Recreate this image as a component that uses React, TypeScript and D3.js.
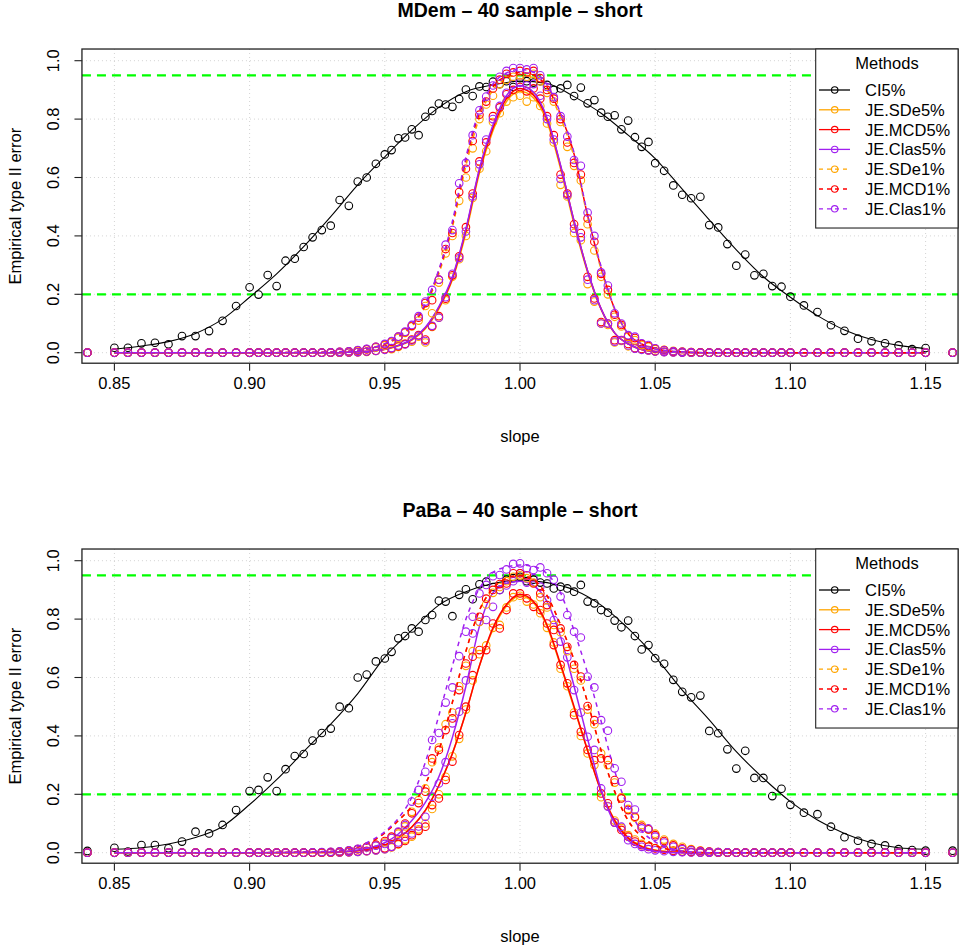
import * as d3 from 'd3'
import React from 'react'

// simulated slopes: 0.005 steps outside, 1/300 steps then 0.0025 steps near 1
const slopes = [
  0.84, 0.85, 0.855, 0.86, 0.865, 0.87, 0.875, 0.88, 0.885, 0.89, 0.895,
  0.9, 0.9033, 0.9067, 0.91, 0.9133, 0.9167, 0.92, 0.9233, 0.9267, 0.93, 0.9333, 0.9367, 0.94, 0.9433, 0.9467,
  0.95, 0.9525, 0.955, 0.9575, 0.96, 0.9625, 0.965, 0.9675, 0.97, 0.9725,
  0.975, 0.9775, 0.98, 0.9825, 0.985, 0.9875, 0.99, 0.9925, 0.995, 0.9975,
  1, 1.0025, 1.005, 1.0075, 1.01, 1.0125, 1.015, 1.0175, 1.02, 1.0225,
  1.025, 1.0275, 1.03, 1.0325, 1.035, 1.0375, 1.04, 1.0425, 1.045, 1.0475,
  1.05,
  1.0533, 1.0567, 1.06, 1.0633, 1.0667, 1.07, 1.0733, 1.0767, 1.08, 1.0833, 1.0867, 1.09, 1.0933, 1.0967, 1.1,
  1.105, 1.11, 1.115, 1.12, 1.125, 1.13, 1.135, 1.14, 1.145, 1.15, 1.16,
]

// slopes where the smoothed curves were evaluated
const ciFitSlopes = [
  0.85, 0.86, 0.87, 0.88, 0.89, 0.9, 0.91, 0.92, 0.93, 0.94, 0.95, 0.96, 0.97, 0.98, 0.99, 1,
  1.01, 1.02, 1.03, 1.04, 1.05, 1.06, 1.07, 1.08, 1.09, 1.1, 1.11, 1.12, 1.13, 1.14, 1.15,
]
const jeFitSlopes = [
  0.85, 0.9, 0.93, 0.935, 0.94, 0.945, 0.95, 0.955, 0.96, 0.965, 0.97, 0.975, 0.98, 0.985, 0.99, 0.995,
  1, 1.005, 1.01, 1.015, 1.02, 1.025, 1.03, 1.035, 1.04, 1.045, 1.05, 1.055, 1.06, 1.065, 1.07, 1.1, 1.15,
]

const xTicks = [0.85, 0.9, 0.95, 1, 1.05, 1.1, 1.15]
const yTicks = [0, 0.2, 0.4, 0.6, 0.8, 1]
const yTickLabels = ['0.0', '0.2', '0.4', '0.6', '0.8', '1.0']
const refLevels = [0.95, 0.2]

const methods = ['CI5%', 'JE.SDe5%', 'JE.MCD5%', 'JE.Clas5%', 'JE.SDe1%', 'JE.MCD1%', 'JE.Clas1%']
const methodColors = ['#000000', '#FFA500', '#FF0000', '#A020F0', '#FFA500', '#FF0000', '#A020F0']
const methodDashed = [false, false, false, false, true, true, true]

// ---------- MDem ----------
const mdemCI = [
  0, 0.017, 0.017, 0.032, 0.034, 0.029, 0.057, 0.057, 0.074, 0.109, 0.16,
  0.224, 0.199, 0.266, 0.228, 0.315, 0.322, 0.362, 0.395, 0.42, 0.435, 0.523, 0.503, 0.586, 0.6, 0.647,
  0.679, 0.694, 0.734, 0.737, 0.765, 0.745, 0.808, 0.828, 0.853, 0.85,
  0.842, 0.869, 0.901, 0.879, 0.912, 0.91, 0.928, 0.92, 0.93, 0.91,
  0.94, 0.93, 0.925, 0.93, 0.917, 0.9, 0.905, 0.917, 0.879, 0.908,
  0.854, 0.865, 0.822, 0.808, 0.813, 0.765, 0.795, 0.738, 0.705, 0.722,
  0.649,
  0.623, 0.573, 0.541, 0.529, 0.534, 0.437, 0.429, 0.372, 0.298, 0.336, 0.265, 0.27, 0.228, 0.226, 0.192,
  0.162, 0.139, 0.094, 0.075, 0.048, 0.039, 0.032, 0.025, 0.012, 0.016, 0,
]
const mdemSDe5 = [
  0, 0, 0, 0, 0, 0, 0, 0, 0, 0, 0,
  0, 0, 0, 0, 0, 0, 0, 0, 0, 0, 0, 0.001, 0.002, 0.003, 0.006,
  0.01, 0.012, 0.02, 0.03, 0.038, 0.055, 0.035, 0.088, 0.12, 0.18,
  0.26, 0.32, 0.4, 0.53, 0.63, 0.69, 0.79, 0.82, 0.86, 0.875,
  0.88, 0.86, 0.875, 0.845, 0.785, 0.72, 0.575, 0.535, 0.41, 0.385,
  0.235, 0.175, 0.1, 0.095, 0.035, 0.04, 0.022, 0.015, 0.011, 0.008,
  0.004,
  0.003, 0.002, 0.001, 0, 0, 0, 0, 0, 0, 0, 0, 0, 0, 0, 0,
  0, 0, 0, 0, 0, 0, 0, 0, 0, 0, 0,
]
const mdemMCD5 = [
  0, 0, 0, 0, 0, 0, 0, 0, 0, 0, 0,
  0, 0, 0, 0, 0, 0, 0, 0, 0, 0, 0, 0.001, 0.002, 0.004, 0.007,
  0.012, 0.015, 0.022, 0.03, 0.045, 0.06, 0.045, 0.09, 0.125, 0.185,
  0.265, 0.33, 0.43, 0.545, 0.655, 0.72, 0.81, 0.84, 0.885, 0.9,
  0.91, 0.895, 0.905, 0.87, 0.81, 0.745, 0.61, 0.545, 0.44, 0.41,
  0.26, 0.186, 0.105, 0.1, 0.043, 0.043, 0.03, 0.015, 0.013, 0.009,
  0.005,
  0.003, 0.002, 0.001, 0, 0, 0, 0, 0, 0, 0, 0, 0, 0, 0, 0,
  0, 0, 0, 0, 0, 0, 0, 0, 0, 0, 0,
]
const mdemClas5 = [
  0, 0, 0, 0, 0, 0, 0, 0, 0, 0, 0,
  0, 0, 0, 0, 0, 0, 0, 0, 0, 0, 0, 0.001, 0.002, 0.004, 0.006,
  0.01, 0.016, 0.025, 0.028, 0.042, 0.058, 0.04, 0.092, 0.12, 0.19,
  0.27, 0.325, 0.415, 0.535, 0.645, 0.73, 0.8, 0.845, 0.89, 0.92,
  0.925, 0.915, 0.92, 0.88, 0.8, 0.73, 0.595, 0.54, 0.425, 0.395,
  0.25, 0.18, 0.1, 0.1, 0.038, 0.042, 0.025, 0.014, 0.01, 0.008,
  0.004,
  0.002, 0.001, 0, 0, 0, 0, 0, 0, 0, 0, 0, 0, 0, 0, 0,
  0, 0, 0, 0, 0, 0, 0, 0, 0, 0, 0,
]
const mdemSDe1 = [
  0, 0, 0, 0, 0, 0, 0, 0, 0, 0, 0,
  0, 0, 0, 0, 0, 0, 0, 0, 0, 0.001, 0.002, 0.004, 0.007, 0.011, 0.018,
  0.025, 0.035, 0.05, 0.068, 0.09, 0.11, 0.16, 0.135, 0.24, 0.34,
  0.4, 0.52, 0.6, 0.7, 0.8, 0.85, 0.88, 0.92, 0.935, 0.945,
  0.95, 0.945, 0.955, 0.93, 0.89, 0.86, 0.79, 0.705, 0.64, 0.59,
  0.44, 0.35, 0.26, 0.2, 0.123, 0.09, 0.055, 0.043, 0.026, 0.02,
  0.012,
  0.01, 0.006, 0.004, 0.002, 0.001, 0, 0, 0, 0, 0, 0, 0, 0, 0, 0,
  0, 0, 0, 0, 0, 0, 0, 0, 0, 0, 0,
]
const mdemMCD1 = [
  0, 0, 0, 0, 0, 0, 0, 0, 0, 0, 0,
  0, 0, 0, 0, 0, 0, 0, 0, 0, 0.001, 0.003, 0.005, 0.008, 0.012, 0.02,
  0.028, 0.038, 0.055, 0.07, 0.092, 0.12, 0.17, 0.18, 0.25, 0.355,
  0.41, 0.55, 0.63, 0.725, 0.815, 0.86, 0.905, 0.935, 0.955, 0.96,
  0.965, 0.96, 0.965, 0.94, 0.9, 0.87, 0.8, 0.72, 0.65, 0.61,
  0.46, 0.38, 0.27, 0.215, 0.13, 0.095, 0.058, 0.05, 0.03, 0.023,
  0.014,
  0.009, 0.005, 0.003, 0.002, 0.001, 0, 0, 0, 0, 0, 0, 0, 0, 0, 0,
  0, 0, 0, 0, 0, 0, 0, 0, 0, 0, 0,
]
const mdemClas1 = [
  0, 0, 0, 0, 0, 0, 0, 0, 0, 0, 0,
  0, 0, 0, 0, 0, 0, 0, 0, 0, 0.001, 0.003, 0.005, 0.009, 0.013, 0.02,
  0.03, 0.04, 0.055, 0.072, 0.095, 0.125, 0.175, 0.215, 0.25, 0.37,
  0.42, 0.58, 0.65, 0.745, 0.83, 0.877, 0.915, 0.945, 0.965, 0.975,
  0.975, 0.97, 0.975, 0.95, 0.91, 0.875, 0.81, 0.74, 0.66, 0.64,
  0.48, 0.4, 0.275, 0.23, 0.135, 0.1, 0.06, 0.055, 0.032, 0.026,
  0.015,
  0.008, 0.005, 0.003, 0.001, 0, 0, 0, 0, 0, 0, 0, 0, 0, 0, 0,
  0, 0, 0, 0, 0, 0, 0, 0, 0, 0, 0,
]
const mdemCIFit = [
  0.012, 0.023, 0.038, 0.066, 0.115, 0.19, 0.27, 0.363, 0.466, 0.575, 0.671, 0.762, 0.84, 0.894, 0.917, 0.93,
  0.922, 0.877, 0.82, 0.745, 0.665, 0.56, 0.455, 0.352, 0.26, 0.19, 0.127, 0.078, 0.045, 0.025, 0.014,
]
const mdemSDe5Fit = [
  0, 0, 0, 0.001, 0.003, 0.006, 0.011, 0.023, 0.043, 0.082, 0.15, 0.25, 0.41, 0.615, 0.76, 0.86,
  0.895, 0.872, 0.79, 0.63, 0.44, 0.275, 0.148, 0.067, 0.03, 0.011, 0.004, 0.0015, 0.001, 0, 0, 0, 0,
]
const mdemMCD5Fit = [
  0, 0, 0, 0.001, 0.003, 0.006, 0.012, 0.025, 0.045, 0.085, 0.155, 0.255, 0.42, 0.625, 0.77, 0.87,
  0.905, 0.882, 0.8, 0.64, 0.45, 0.28, 0.15, 0.068, 0.03, 0.011, 0.004, 0.0015, 0.001, 0, 0, 0, 0,
]
const mdemClas5Fit = [
  0, 0, 0, 0.001, 0.003, 0.006, 0.012, 0.025, 0.046, 0.087, 0.158, 0.26, 0.425, 0.63, 0.78, 0.88,
  0.915, 0.892, 0.805, 0.642, 0.45, 0.28, 0.15, 0.068, 0.03, 0.011, 0.004, 0.0015, 0.001, 0, 0, 0, 0,
]
const mdemSDe1Fit = [
  0, 0, 0.002, 0.004, 0.008, 0.015, 0.028, 0.052, 0.09, 0.16, 0.27, 0.43, 0.64, 0.805, 0.9, 0.94,
  0.952, 0.942, 0.9, 0.805, 0.67, 0.465, 0.285, 0.148, 0.064, 0.03, 0.013, 0.006, 0.003, 0.001, 0, 0, 0,
]
const mdemMCD1Fit = [
  0, 0, 0.002, 0.004, 0.008, 0.016, 0.03, 0.055, 0.095, 0.165, 0.28, 0.44, 0.66, 0.82, 0.91, 0.948,
  0.96, 0.95, 0.91, 0.815, 0.68, 0.47, 0.29, 0.15, 0.065, 0.03, 0.013, 0.006, 0.003, 0.001, 0, 0, 0,
]
const mdemClas1Fit = [
  0, 0, 0.002, 0.004, 0.008, 0.016, 0.031, 0.057, 0.098, 0.17, 0.285, 0.45, 0.67, 0.83, 0.92, 0.958,
  0.97, 0.96, 0.918, 0.82, 0.685, 0.475, 0.295, 0.152, 0.066, 0.03, 0.013, 0.006, 0.003, 0.001, 0, 0, 0,
]

// ---------- PaBa ----------
const pabaCI = [
  0.006, 0.017, 0.004, 0.026, 0.026, 0.015, 0.038, 0.072, 0.066, 0.095, 0.146,
  0.211, 0.215, 0.258, 0.211, 0.286, 0.331, 0.338, 0.384, 0.41, 0.425, 0.5, 0.495, 0.6, 0.61, 0.655,
  0.665, 0.688, 0.734, 0.742, 0.768, 0.757, 0.797, 0.814, 0.863, 0.86,
  0.81, 0.883, 0.902, 0.868, 0.919, 0.928, 0.91, 0.9, 0.935, 0.94,
  0.945, 0.93, 0.935, 0.925, 0.922, 0.905, 0.911, 0.905, 0.894, 0.917,
  0.86, 0.854, 0.831, 0.822, 0.795, 0.772, 0.795, 0.742, 0.696, 0.711,
  0.666,
  0.647, 0.592, 0.551, 0.532, 0.538, 0.417, 0.409, 0.354, 0.288, 0.349, 0.256, 0.256, 0.194, 0.219, 0.164,
  0.137, 0.132, 0.089, 0.053, 0.041, 0.03, 0.025, 0.012, 0.009, 0.007, 0.007,
]
const pabaSDe5 = [
  0, 0, 0, 0, 0, 0, 0, 0, 0, 0, 0,
  0, 0, 0, 0, 0, 0, 0, 0, 0, 0, 0.001, 0.002, 0.003, 0.005, 0.008,
  0.012, 0.018, 0.028, 0.045, 0.055, 0.08, 0.1, 0.15, 0.2, 0.26,
  0.33, 0.39, 0.49, 0.59, 0.68, 0.71, 0.77, 0.78, 0.84, 0.875,
  0.88, 0.86, 0.85, 0.82, 0.77, 0.72, 0.63, 0.57, 0.48, 0.4,
  0.34, 0.3, 0.19, 0.16, 0.11, 0.085, 0.06, 0.045, 0.03, 0.022,
  0.016,
  0.012, 0.007, 0.004, 0.002, 0.001, 0, 0, 0, 0, 0, 0, 0, 0, 0, 0,
  0, 0, 0, 0, 0, 0, 0, 0, 0, 0, 0,
]
const pabaMCD5 = [
  0, 0, 0, 0, 0, 0, 0, 0, 0, 0, 0,
  0, 0, 0, 0, 0, 0, 0, 0, 0, 0, 0.001, 0.002, 0.004, 0.006, 0.01,
  0.015, 0.02, 0.03, 0.04, 0.06, 0.075, 0.089, 0.163, 0.186, 0.249,
  0.312, 0.403, 0.5, 0.608, 0.694, 0.694, 0.785, 0.768, 0.831, 0.888,
  0.888, 0.871, 0.842, 0.831, 0.785, 0.711, 0.643, 0.58, 0.471, 0.414,
  0.352, 0.317, 0.203, 0.169, 0.103, 0.078, 0.055, 0.038, 0.026, 0.02,
  0.015,
  0.01, 0.006, 0.003, 0.002, 0.001, 0, 0, 0, 0, 0, 0, 0, 0, 0, 0,
  0, 0, 0, 0, 0, 0, 0, 0, 0, 0, 0,
]
const pabaClas5 = [
  0, 0, 0, 0, 0, 0, 0, 0, 0, 0, 0,
  0, 0, 0, 0, 0, 0, 0, 0, 0, 0, 0.001, 0.002, 0.003, 0.005, 0.008,
  0.012, 0.02, 0.035, 0.055, 0.066, 0.09, 0.123, 0.192, 0.237, 0.31,
  0.443, 0.483, 0.59, 0.751, 0.791, 0.797, 0.842, 0.9, 0.915, 0.93,
  0.957, 0.925, 0.94, 0.911, 0.865, 0.797, 0.723, 0.669, 0.557, 0.48,
  0.397, 0.352, 0.22, 0.158, 0.103, 0.089, 0.043, 0.03, 0.02, 0.012,
  0.008,
  0.005, 0.003, 0.002, 0.001, 0, 0, 0, 0, 0, 0, 0, 0, 0, 0, 0,
  0, 0, 0, 0, 0, 0, 0, 0, 0, 0, 0,
]
const pabaSDe1 = [
  0, 0, 0, 0, 0, 0, 0, 0, 0, 0, 0,
  0, 0, 0, 0, 0, 0, 0, 0, 0.001, 0.002, 0.004, 0.007, 0.012, 0.018, 0.025,
  0.035, 0.05, 0.065, 0.09, 0.14, 0.18, 0.22, 0.31, 0.36, 0.44,
  0.48, 0.57, 0.64, 0.69, 0.79, 0.85, 0.89, 0.91, 0.93, 0.945,
  0.95, 0.94, 0.925, 0.875, 0.84, 0.78, 0.755, 0.69, 0.63, 0.59,
  0.49, 0.44, 0.34, 0.3, 0.24, 0.19, 0.15, 0.12, 0.095, 0.08,
  0.065,
  0.045, 0.03, 0.02, 0.012, 0.007, 0.004, 0.002, 0.001, 0, 0, 0, 0, 0, 0, 0,
  0, 0, 0, 0, 0, 0, 0, 0, 0, 0, 0,
]
const pabaMCD1 = [
  0, 0, 0, 0, 0, 0, 0, 0, 0, 0, 0,
  0, 0, 0, 0, 0, 0, 0, 0, 0.001, 0.002, 0.004, 0.007, 0.012, 0.02, 0.028,
  0.04, 0.055, 0.07, 0.1, 0.135, 0.17, 0.209, 0.323, 0.352, 0.42,
  0.46, 0.557, 0.648, 0.671, 0.808, 0.87, 0.9, 0.92, 0.922, 0.957,
  0.957, 0.95, 0.922, 0.888, 0.848, 0.763, 0.768, 0.705, 0.643, 0.603,
  0.502, 0.454, 0.323, 0.317, 0.249, 0.186, 0.146, 0.123, 0.089, 0.08,
  0.06,
  0.04, 0.025, 0.015, 0.01, 0.006, 0.004, 0.002, 0.001, 0, 0, 0, 0, 0, 0, 0,
  0, 0, 0, 0, 0, 0, 0, 0, 0, 0, 0,
]
const pabaClas1 = [
  0, 0, 0, 0, 0, 0, 0, 0, 0, 0, 0,
  0, 0, 0, 0, 0, 0, 0, 0.001, 0.002, 0.003, 0.005, 0.008, 0.013, 0.018, 0.024,
  0.03, 0.05, 0.072, 0.095, 0.175, 0.215, 0.277, 0.386, 0.41, 0.514,
  0.566, 0.673, 0.757, 0.808, 0.888, 0.917, 0.947, 0.951, 0.97, 0.989,
  0.991, 0.974, 0.968, 0.977, 0.957, 0.935, 0.877, 0.814, 0.757, 0.737,
  0.603, 0.566, 0.454, 0.418, 0.289, 0.243, 0.163, 0.148, 0.083, 0.083,
  0.055,
  0.035, 0.02, 0.012, 0.008, 0.005, 0.003, 0.002, 0.001, 0, 0, 0, 0, 0, 0, 0,
  0, 0, 0, 0, 0, 0, 0, 0, 0, 0, 0,
]
const pabaCIFit = [
  0.012, 0.017, 0.03, 0.052, 0.09, 0.165, 0.25, 0.346, 0.44, 0.545, 0.67, 0.762, 0.848, 0.894, 0.922, 0.934,
  0.925, 0.9, 0.848, 0.768, 0.671, 0.557, 0.455, 0.346, 0.255, 0.175, 0.112, 0.066, 0.034, 0.017, 0.012,
]
const pabaSDe5Fit = [
  0, 0, 0.001, 0.003, 0.007, 0.014, 0.026, 0.05, 0.088, 0.145, 0.23, 0.34, 0.48, 0.64, 0.765, 0.845,
  0.88, 0.856, 0.775, 0.64, 0.495, 0.35, 0.21, 0.112, 0.052, 0.022, 0.009, 0.003, 0.001, 0, 0, 0, 0,
]
const pabaMCD5Fit = [
  0, 0, 0.001, 0.003, 0.007, 0.014, 0.026, 0.05, 0.088, 0.145, 0.23, 0.34, 0.48, 0.64, 0.77, 0.85,
  0.885, 0.86, 0.78, 0.645, 0.5, 0.35, 0.21, 0.11, 0.05, 0.021, 0.008, 0.003, 0.001, 0, 0, 0, 0,
]
const pabaClas5Fit = [
  0, 0, 0.002, 0.004, 0.009, 0.018, 0.034, 0.064, 0.11, 0.172, 0.26, 0.395, 0.57, 0.775, 0.89, 0.922,
  0.93, 0.915, 0.86, 0.74, 0.57, 0.39, 0.215, 0.1, 0.042, 0.016, 0.005, 0.001, 0, 0, 0, 0, 0,
]
const pabaSDe1Fit = [
  0, 0, 0.004, 0.009, 0.02, 0.037, 0.068, 0.11, 0.16, 0.235, 0.35, 0.515, 0.69, 0.83, 0.905, 0.94,
  0.95, 0.935, 0.88, 0.78, 0.66, 0.515, 0.35, 0.21, 0.11, 0.055, 0.025, 0.011, 0.004, 0.0015, 0, 0, 0,
]
const pabaMCD1Fit = [
  0, 0, 0.004, 0.009, 0.02, 0.037, 0.068, 0.11, 0.16, 0.235, 0.35, 0.515, 0.69, 0.83, 0.905, 0.94,
  0.95, 0.935, 0.88, 0.78, 0.66, 0.515, 0.35, 0.21, 0.11, 0.055, 0.025, 0.011, 0.004, 0.0015, 0, 0, 0,
]
const pabaClas1Fit = [
  0, 0, 0.005, 0.01, 0.022, 0.042, 0.072, 0.118, 0.19, 0.31, 0.47, 0.64, 0.8, 0.905, 0.96, 0.978,
  0.985, 0.98, 0.955, 0.89, 0.76, 0.615, 0.45, 0.28, 0.155, 0.075, 0.037, 0.016, 0.006, 0.002, 0, 0, 0,
]

const mdemPoints = [mdemCI, mdemSDe5, mdemMCD5, mdemClas5, mdemSDe1, mdemMCD1, mdemClas1]
const mdemFits = [mdemCIFit, mdemSDe5Fit, mdemMCD5Fit, mdemClas5Fit, mdemSDe1Fit, mdemMCD1Fit, mdemClas1Fit]
const pabaPoints = [pabaCI, pabaSDe5, pabaMCD5, pabaClas5, pabaSDe1, pabaMCD1, pabaClas1]
const pabaFits = [pabaCIFit, pabaSDe5Fit, pabaMCD5Fit, pabaClas5Fit, pabaSDe1Fit, pabaMCD1Fit, pabaClas1Fit]

const font = '"Liberation Sans", Arial, Helvetica, sans-serif'

const Panel = ({ top, title, points, fits }: { top: number, title: string, points: number[][], fits: number[][] }) => {
  const x = d3.scaleLinear().domain([0.85, 1.15]).range([114.4, 925.6])
  const y = d3.scaleLinear().domain([0, 1]).range([top + 352.7, top + 60.7])
  const left = x(0.838), right = x(1.162), yTop = y(1.04), yBot = y(-0.036)
  const line = d3.line<[number, number]>()
    .x(d => x(d[0]))
    .y(d => y(d[1]))
    .curve(d3.curveMonotoneX)

  return (
    <g>
      <text x={520} y={top + 17} textAnchor="middle" fontSize={19.5} fontWeight="bold">{title}</text>

      {/* grid */}
      {xTicks.map(t => (
        <line key={'gx' + t} x1={x(t)} x2={x(t)} y1={yTop} y2={yBot} stroke="#D3D3D3" strokeDasharray="1,3" />
      ))}
      {yTicks.map(t => (
        <line key={'gy' + t} x1={left} x2={right} y1={y(t)} y2={y(t)} stroke="#D3D3D3" strokeDasharray="1,3" />
      ))}
      {refLevels.map(v => (
        <line key={'ref' + v} x1={left} x2={right} y1={y(v)} y2={y(v)} stroke="#00FF00" strokeWidth={2.2} strokeDasharray="9,6" />
      ))}

      {/* data */}
      {points.map((vals, si) => {
        const fx = si === 0 ? ciFitSlopes : jeFitSlopes
        const fitPath = line(fits[si].map((v, i) => [fx[i], v] as [number, number])) || ''
        return (
          <g key={'s' + si}>
            {vals.map((v, i) => (
              <circle key={i} cx={x(slopes[i])} cy={y(v)} r={3.8} fill="none" stroke={methodColors[si]} strokeWidth={1.1} />
            ))}
            <path d={fitPath} fill="none" stroke={methodColors[si]} strokeWidth={si === 0 ? 1.1 : 1.5}
              strokeDasharray={methodDashed[si] ? '4.5,4.5' : undefined} />
          </g>
        )
      })}

      {/* box */}
      <rect x={left} y={yTop} width={right - left} height={yBot - yTop} fill="none" stroke="#222" strokeWidth={1.3} />

      {/* x axis */}
      {xTicks.map(t => (
        <g key={'xt' + t}>
          <line x1={x(t)} x2={x(t)} y1={yBot} y2={yBot + 7.5} stroke="#222" strokeWidth={1.1} />
          <text x={x(t)} y={top + 389} textAnchor="middle" fontSize={16.5}>{t.toFixed(2)}</text>
        </g>
      ))}
      <text x={520} y={top + 442} textAnchor="middle" fontSize={16.5}>slope</text>

      {/* y axis */}
      {yTicks.map((t, i) => (
        <g key={'yt' + t}>
          <line x1={left - 7.5} x2={left} y1={y(t)} y2={y(t)} stroke="#222" strokeWidth={1.1} />
          <text transform={`translate(${left - 23},${y(t)}) rotate(-90)`} textAnchor="middle" fontSize={16.5}>{yTickLabels[i]}</text>
        </g>
      ))}
      <text transform={`translate(21,${(yTop + yBot) / 2}) rotate(-90)`} textAnchor="middle" fontSize={16.5}>Empirical type II error</text>

      {/* legend */}
      <rect x={815.7} y={yTop} width={right - 815.7} height={179} fill="white" stroke="#222" strokeWidth={1.1} />
      <text x={887} y={top + 69} textAnchor="middle" fontSize={16.5}>Methods</text>
      {methods.map((m, i) => {
        const ly = top + 90 + i * 19.8
        return (
          <g key={m}>
            <line x1={819} x2={850} y1={ly} y2={ly} stroke={methodColors[i]} strokeWidth={1.3}
              strokeDasharray={methodDashed[i] ? '4,4' : undefined} />
            <circle cx={834.7} cy={ly} r={3.2} fill="none" stroke={methodColors[i]} strokeWidth={1.1} />
            <text x={865} y={ly + 6} fontSize={16.5}>{m}</text>
          </g>
        )
      })}
    </g>
  )
}

export default function App() {
  const bad = [...mdemPoints, ...pabaPoints].map((a, i) => a.length !== slopes.length ? `p${i}:${a.length}` : '')
    .concat([...mdemFits, ...pabaFits].map((a, i) => a.length !== ((i % 7) === 0 ? ciFitSlopes.length : jeFitSlopes.length) ? `f${i}:${a.length}` : ''))
    .filter(s => s)
  return (
    <div style={{ position: 'absolute', left: 0, top: 0 }}>
      <svg width={960} height={945} style={{ display: 'block', background: 'white' }} fontFamily={font}>
        <Panel top={0} title={'MDem \u2013 40 sample \u2013 short'} points={mdemPoints} fits={mdemFits} />
        <Panel top={500} title={'PaBa \u2013 40 sample \u2013 short'} points={pabaPoints} fits={pabaFits} />
        {bad.length > 0 && <text x={10} y={490} fill="red" fontSize={12}>{bad.join(' ')}</text>}
      </svg>
    </div>
  )
}
